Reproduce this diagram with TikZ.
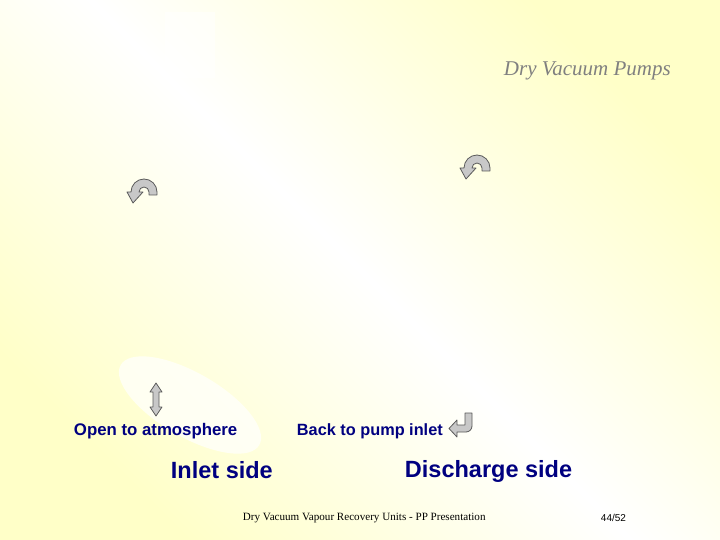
\documentclass[tikz,border=0pt]{standalone}
\usepackage{fontspec}
\setmainfont{Liberation Serif}
\setsansfont{Liberation Sans}

\definecolor{navy}{rgb}{0.0, 0.0, 0.5}
\definecolor{paleyellow}{RGB}{255,255,200}
\definecolor{arrowfill}{RGB}{200,200,200}
\definecolor{arrowline}{RGB}{90,90,90}

\tikzset{
  note/.style={anchor=west, inner sep=0.75pt, text=navy, font=\sffamily\bfseries\fontsize{16.8}{18}\selectfont},
  sidetext/.style={note, font=\sffamily\bfseries\fontsize{23.5}{26}\selectfont},
  grayarrow/.style={fill=arrowfill, draw=arrowline, line width=0.8pt, line join=round},
  % pics do not take the picture's yscale, so y points up in here
  uturn/.pic={
    \path[grayarrow] (13,-3) -- (13,0) arc[start angle=0, end angle=180, radius=13]
      -- (-17,0) -- (-11,-11) -- (-1,0) -- (-5,0)
      arc[start angle=180, end angle=0, radius=5] -- (5,-3) -- cycle;
  }
}

\begin{document}
\begin{tikzpicture}[x=1pt,y=1pt,yscale=-1,xscale=1]
		% Slide background, yellow at two corners and white across the middle
		\shade[top color=paleyellow, bottom color=paleyellow, middle color=white, shading angle=-45] (0,0) rectangle (720,540);
		\useasboundingbox (0,0) rectangle (720,540);

		% Faint white patches
		\fill[white, opacity=0.5] (165,12) rectangle (215,78);
		\fill[white, opacity=0.7, rotate around={30:(190,405)}] (190,405) ellipse [x radius=80, y radius=32];

		% Title at the top right
		\node (title) at (503,71) [anchor=west, inner sep=0.75pt, text=gray, font=\itshape\fontsize{21}{23}\selectfont] {Dry Vacuum Pumps};

		% The two U-turn arrows
		\pic at (144,192) {uturn};
		\pic at (477,168) {uturn};

		% The up and down arrow
		\path[grayarrow] (156,383) -- (162,392) -- (159,392) -- (159,407) -- (162,407) -- (156,416)
			-- (150,407) -- (153,407) -- (153,392) -- (150,392) -- cycle;

		% The bent arrow after "Back to pump inlet"
		\path[grayarrow] (465,413) -- (472,413) -- (472,426) arc[start angle=0, end angle=90, radius=6]
			-- (457,432) -- (457,437) -- (449,428.5) -- (457,420) -- (457,425) -- (465,425) -- cycle;

		% Labels
		\node (openatm) at (73,431) [note] {Open to atmosphere};
		\node (backinlet) at (296,431) [note, font=\sffamily\bfseries\fontsize{16.3}{18}\selectfont] {Back to pump inlet};
		\node (inletside) at (170,470) [sidetext] {Inlet side};
		\node (dischside) at (404,471) [sidetext] {Discharge side};

		% Footer
		\node (footer) at (242,518) [anchor=west, inner sep=0.75pt, font=\fontsize{11.1}{13}\selectfont] {Dry Vacuum Vapour Recovery Units - PP Presentation};
		\node (pageno) at (600,518) [anchor=west, inner sep=0.75pt, font=\sffamily\fontsize{10}{12}\selectfont] {44/52};
	\end{tikzpicture}
\end{document}
